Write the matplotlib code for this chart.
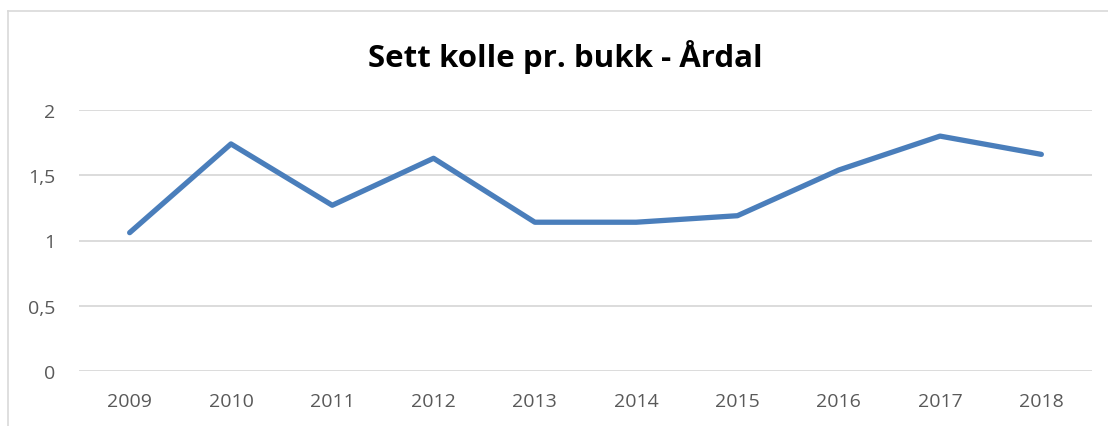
import matplotlib
matplotlib.use("Agg")
import matplotlib.pyplot as plt
from matplotlib.lines import Line2D

years = ["2009", "2010", "2011", "2012", "2013", "2014", "2015", "2016", "2017", "2018"]
values = [1.06, 1.74, 1.27, 1.63, 1.14, 1.14, 1.19, 1.54, 1.80, 1.66]
yticks = [0, 0.5, 1, 1.5, 2]
ytick_labels = ["0", "0,5", "1", "1,5", "2"]
title = "Sett kolle pr. bukk - Årdal"

W, H = 1108, 427
fig = plt.figure(figsize=(W / 100, H / 100), dpi=100)
ax = fig.add_axes([79 / W, 1 - 372 / H, (1092 - 79) / W, (372 - 111) / H])

x = list(range(len(years)))
ax.plot(x, values, color="#4a7ebb", lw=3.8, solid_capstyle="round", solid_joinstyle="round", zorder=3)

ax.set_xlim(-0.5, len(years) - 0.5)
ax.set_ylim(0, 2)
ax.set_yticks(yticks)
ax.set_yticklabels(ytick_labels)
ax.set_xticks(x)
ax.set_xticklabels(years)
ax.grid(axis="y", color="#d9d9d9", lw=1.3)
ax.set_axisbelow(True)
for s in ax.spines.values():
    s.set_visible(False)
ax.tick_params(length=0, labelsize=14, labelcolor="#595959")
ax.tick_params(axis="x", pad=15)
ax.tick_params(axis="y", pad=17)
for lab in ax.get_xticklabels() + ax.get_yticklabels():
    lab.set_family("Open Sans")

fig.text(565 / W, 1 - 57 / H, title, ha="center", va="center", fontsize=22.5,
         fontweight="bold", family="Open Sans", color="#000000")

# outer chart border (partially visible)
fig.add_artist(Line2D([8 / W, 8 / W], [0, 1 - 12 / H], transform=fig.transFigure, color="#d9d9d9", lw=1.2))
fig.add_artist(Line2D([8 / W, 1], [1 - 12 / H, 1 - 12 / H], transform=fig.transFigure, color="#d9d9d9", lw=1.2))

fig.savefig("out.png", dpi=100)
